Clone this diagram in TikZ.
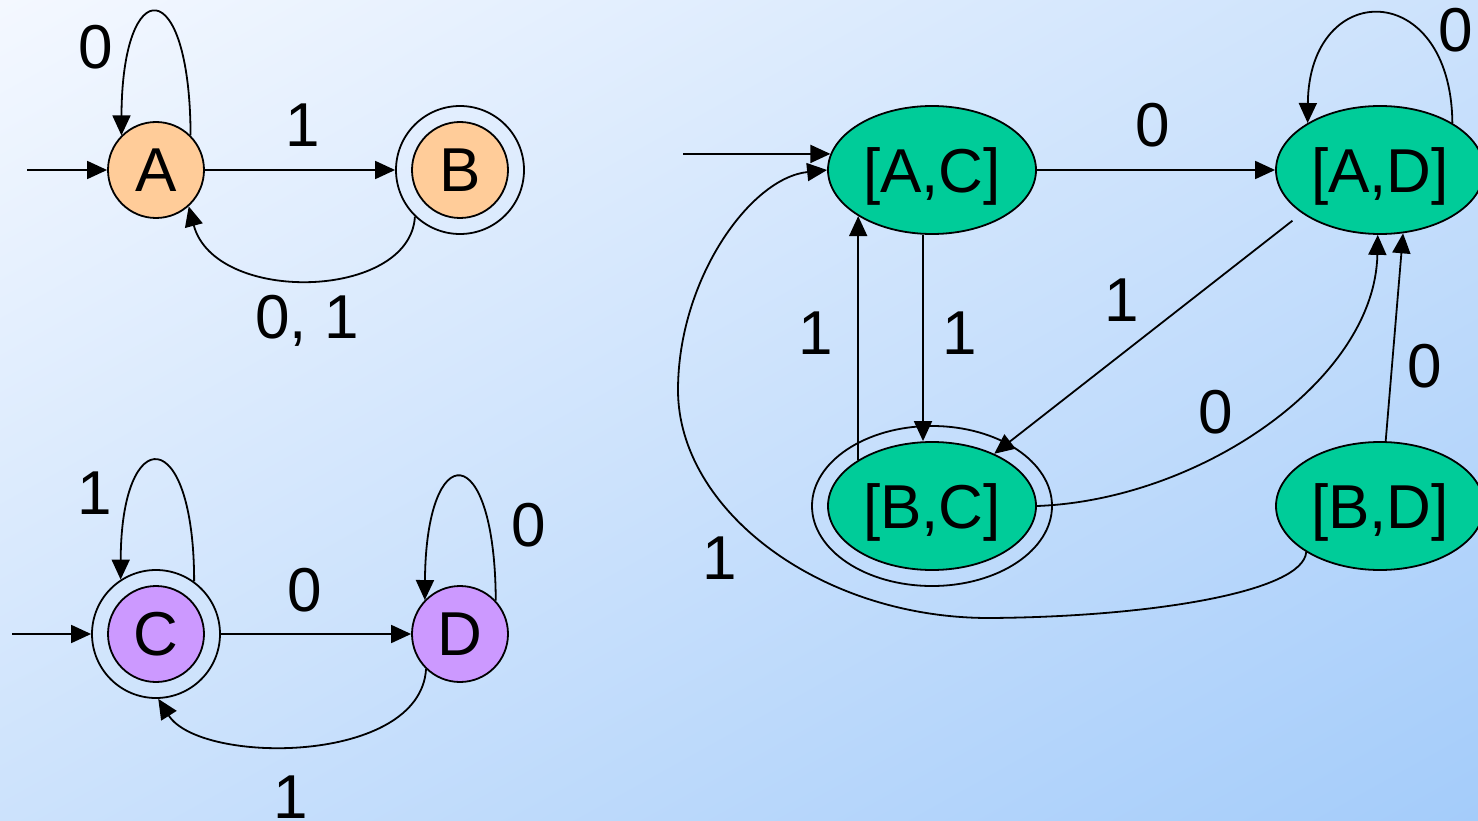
\documentclass[tikz,border=0pt]{standalone}
\usepackage{fontspec}
\setmainfont{Liberation Sans}
\usetikzlibrary{arrows.meta,shapes.geometric,shadings}
\definecolor{orng}{HTML}{FFCC99}
\definecolor{purp}{HTML}{CC99FF}
\definecolor{grn}{HTML}{00CC99}
\definecolor{bgul}{RGB}{244,248,255}
\definecolor{bgmid}{RGB}{204,226,252}
\definecolor{bglr}{RGB}{164,204,250}
\begin{document}
\begin{tikzpicture}[x=1pt,y=-1pt,
  every node/.style={font=\fontsize{62}{70}\selectfont, text depth=0pt},
  st/.style={circle, draw, line width=1.8pt, minimum size=96pt, inner sep=0pt},
  acc/.style={circle, draw, line width=1.8pt, minimum size=128pt, inner sep=0pt},
  est/.style={ellipse, draw, line width=1.8pt, minimum width=208pt, minimum height=128pt, inner sep=0pt, fill=grn},
  eacc/.style={ellipse, draw, line width=1.8pt, minimum width=240pt, minimum height=160pt, inner sep=0pt},
  arr/.style={line width=1.8pt, -{Triangle[length=20pt,width=18pt]}},
  lbl/.style={inner sep=0pt}
]
\useasboundingbox (0,0) rectangle (1478,821);
\shade[upper left=bgul, upper right=bgmid, lower left=bgmid, lower right=bglr] (0,0) rectangle (1478,821);

% left automata
\node[st, fill=orng] (A) at (156,170) {A};
\node[acc] (Bo) at (460,170) {};
\node[st, fill=orng] (B) at (460,170) {B};
\node[acc] (Co) at (156,634) {};
\node[st, fill=purp] (C) at (156,634) {C};
\node[st, fill=purp] (D) at (460,634) {D};

% product automaton
\node[est] (AC) at (932,170) {[A,C]};
\node[est] (AD) at (1380,170) {[A,D]};
\node[eacc] (BCo) at (932,506) {};
\node[est] (BC) at (932,506) {[B,C]};
\node[est] (BD) at (1380,506) {[B,D]};

% start coordinates
\coordinate (sA) at (27,170);
\coordinate (sC) at (12,634);
\coordinate (sAC) at (683,154);

% edges of first automaton
\draw[arr] (sA) -- (A);
\draw[arr] (A) -- (Bo);
\draw[arr] (A.45) .. controls (190,-28) and (122,-28) .. (A.135);
\draw[arr] (Bo.226) .. controls (410,300) and (215,305) .. (A.-48);
\node[lbl] (l1) at (303,125) {1};
\node[lbl] (l2) at (96,47) {0};
\node[lbl] (l3) at (307,317) {0, 1};

% edges of second automaton
\draw[arr] (sC) -- (Co);
\draw[arr] (Co) -- (D);
\draw[arr] (Co.54) .. controls (194,422) and (121,422) .. (Co.123);
\draw[arr] (D.43) .. controls (495,437) and (426,437) .. (D.136);
\draw[arr] (D.226) .. controls (420,765) and (200,765) .. (Co.-88);
\node[lbl] (l4) at (95,493) {1};
\node[lbl] (l5) at (305,590) {0};
\node[lbl] (l6) at (529,525) {0};
\node[lbl] (l7) at (291,797) {1};

% edges of product automaton
\draw[arr] (sAC) -- (AC.171);
\draw[arr] (AC) -- (AD);
\draw[arr] (AD.33) .. controls (1451,-22) and (1309,-22) .. (AD.147);
\draw[arr] ([xshift=-9pt]AC.south) -- ([xshift=-9pt]BC.north);
\draw[arr] (BC.148.7) -- (AC.-148.7);
\draw[arr, shorten <=12pt] (AD.209) -- (BC.40);
\draw[arr] (BC.east) .. controls (1200,500) and (1375,380) .. (AD.-92);
\draw[arr] (BD.85) -- (AD.-70);
\draw[arr] (BD.212) .. controls (1303,592) and (1150,617) .. (989,618)
   .. controls (820,618) and (678,510) .. (678,390)
   .. controls (678,280) and (750,178) .. (AC.west);
\node[lbl] (l8) at (1153,125) {0};
\node[lbl] (l9) at (1456,30) {0};
\node[lbl] (l10) at (960,333) {1};
\node[lbl] (l11) at (816,333) {1};
\node[lbl] (l12) at (1122,300) {1};
\node[lbl] (l13) at (1216,412) {0};
\node[lbl] (l14) at (1425,366) {0};
\node[lbl] (l15) at (720,558) {1};
\end{tikzpicture}
\end{document}
